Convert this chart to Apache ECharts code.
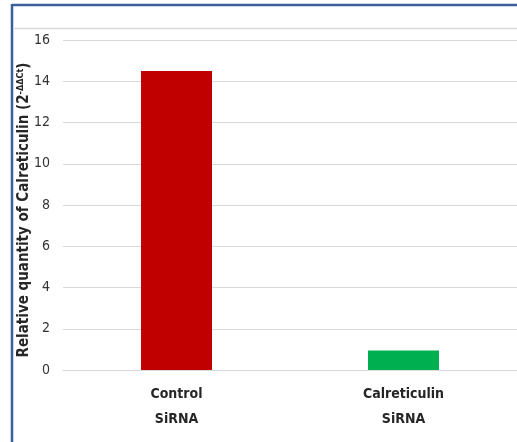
<!DOCTYPE html>
<html>
<head>
<meta charset="utf-8">
<script src="https://cdn.jsdelivr.net/npm/echarts@6/dist/echarts.min.js"></script>
<style>
  html, body { margin: 0; padding: 0; background: #fff; }
  #chart { width: 517px; height: 442px; }
</style>
</head>
<body>
<div id="chart"></div>
<script>
// data
var categories = ["Control\nSiRNA", "Calreticulin\nSiRNA"];
var quantities = [14.5, 0.95];
var barColors = ["#c00000", "#00b050"];
var yTicks = [0, 2, 4, 6, 8, 10, 12, 14, 16];

var font = "'Liberation Sans Narrow', 'DejaVu Sans Condensed', sans-serif";
var frameColor = "#3b5f9e";

var myChart = echarts.init(document.getElementById("chart"));

var option = {
  animation: false,
  grid: { left: 63, right: 0, top: 40, bottom: 72 },
  xAxis: {
    type: "category",
    data: categories,
    axisLine: { lineStyle: { color: "#d9d9d9", width: 1 } },
    axisTick: { show: false },
    axisLabel: {
      fontFamily: font,
      fontWeight: "bold",
      fontSize: 14,
      color: "#262626",
      lineHeight: 25,
      margin: 12,
    },
  },
  yAxis: {
    type: "value",
    min: yTicks[0],
    max: yTicks[yTicks.length - 1],
    interval: 2,
    axisLine: { show: false },
    axisTick: { show: false },
    splitLine: { lineStyle: { color: "#d9d9d9", width: 1 } },
    axisLabel: {
      fontFamily: font,
      fontSize: 14,
      color: "#333333",
      margin: 13,
    },
  },
  series: [
    {
      type: "bar",
      barWidth: 71,
      data: quantities.map(function (v, i) {
        return { value: v, itemStyle: { color: barColors[i] } };
      }),
    },
  ],
  graphic: [
    // frame around the chart area
    { type: "line", shape: { x1: 12, y1: 5, x2: 517, y2: 5 }, style: { stroke: frameColor, lineWidth: 2.5 } },
    { type: "line", shape: { x1: 12, y1: 4, x2: 12, y2: 442 }, style: { stroke: frameColor, lineWidth: 2.5 } },
    { type: "line", shape: { x1: 13, y1: 28.5, x2: 517, y2: 28.5 }, style: { stroke: "#d9d9d9", lineWidth: 1.5 } },
    // y axis title, rotated
    {
      type: "text",
      x: 24,
      y: 210,
      rotation: Math.PI / 2,
      style: {
        text: "{b|Relative quantity of Calreticulin (2}{s|-ΔΔCt}{b|)}",
        align: "center",
        verticalAlign: "middle",
        rich: {
          b: { fontFamily: font, fontWeight: "bold", fontSize: 15, fill: "#262626" },
          s: { fontFamily: font, fontWeight: "bold", fontSize: 9, fill: "#262626", verticalAlign: "top", padding: [0, 0, 7, 0] },
        },
      },
    },
  ],
};

myChart.setOption(option);
</script>
</body>
</html>
